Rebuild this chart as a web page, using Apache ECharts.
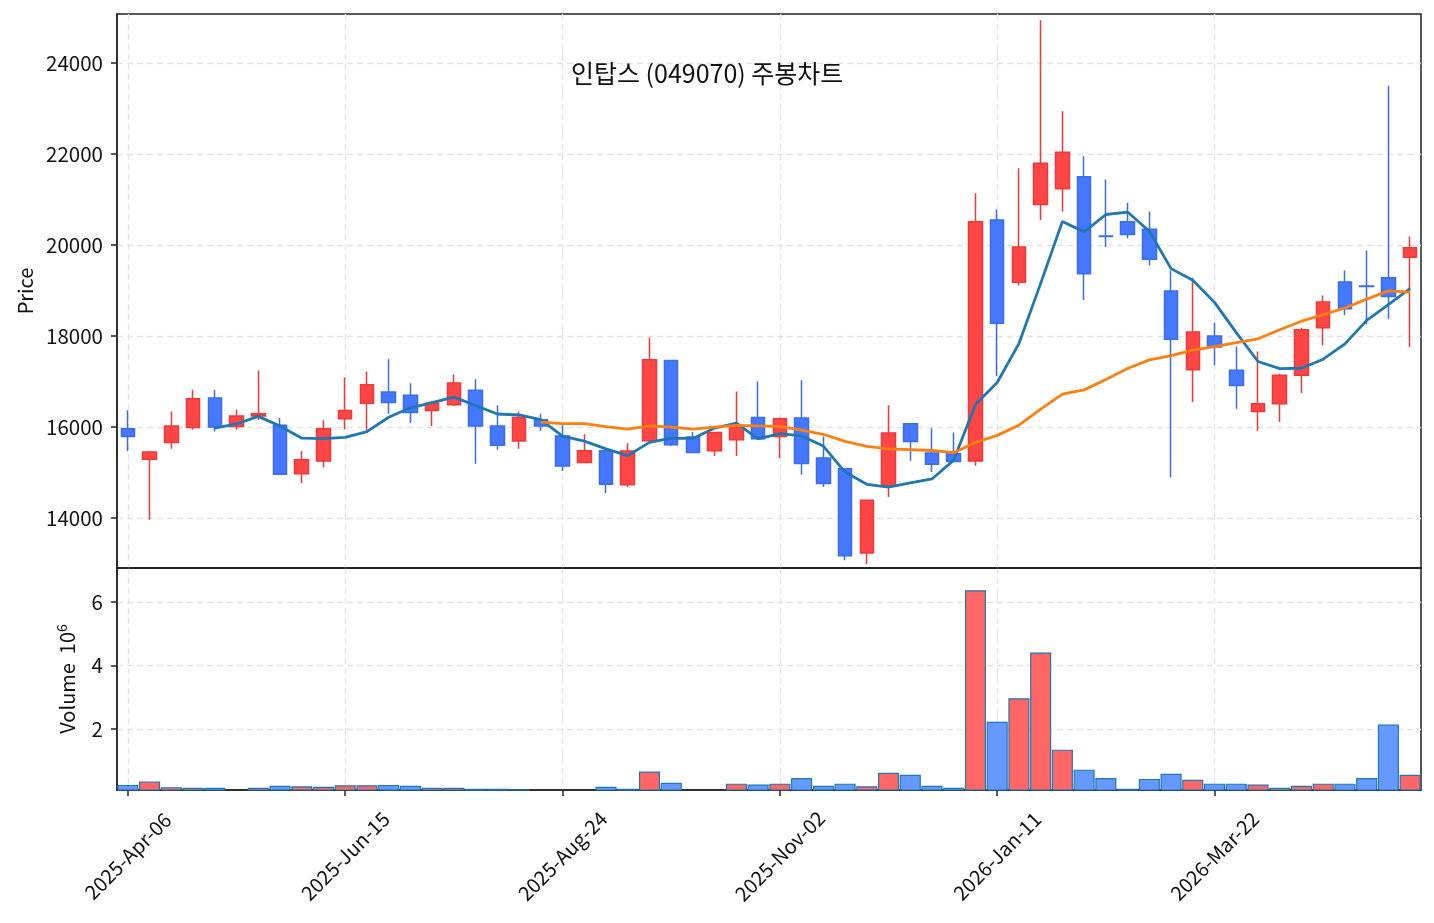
<!DOCTYPE html>
<html><head><meta charset="utf-8">
<script src="https://cdn.jsdelivr.net/npm/echarts@6/dist/echarts.min.js"></script>
<style>html,body{margin:0;padding:0;background:#fff}#c{width:1434px;height:923px}</style>
</head><body><div id="c"></div>
<script>
const dates = ["2025-04-06","2025-04-13","2025-04-20","2025-04-27","2025-05-04","2025-05-11","2025-05-18","2025-05-25","2025-06-01","2025-06-08",
"2025-06-15","2025-06-22","2025-06-29","2025-07-06","2025-07-13","2025-07-20","2025-07-27","2025-08-03","2025-08-10","2025-08-17",
"2025-08-24","2025-08-31","2025-09-07","2025-09-14","2025-09-21","2025-09-28","2025-10-05","2025-10-12","2025-10-19","2025-10-26",
"2025-11-02","2025-11-09","2025-11-16","2025-11-23","2025-11-30","2025-12-07","2025-12-14","2025-12-21","2025-12-28","2026-01-04",
"2026-01-11","2026-01-18","2026-01-25","2026-02-01","2026-02-08","2026-02-15","2026-02-22","2026-03-01","2026-03-08","2026-03-15",
"2026-03-22","2026-03-29","2026-04-05","2026-04-12","2026-04-19","2026-04-26","2026-05-03","2026-05-10","2026-05-17","2026-05-24"];
const opens  = [15960,15290,15660,15990,16640,16010,16240,16040,14970,15250,16180,16520,16770,16700,16360,16490,16810,16020,15690,16160,
15800,15220,15480,14730,15700,17460,15780,15480,15720,16210,15790,16200,15320,15080,13230,14710,16070,15430,15410,15250,
20550,19180,20890,21240,21500,20200,20510,20350,18990,17260,18000,17250,16340,16510,17140,18180,19190,19100,19280,19730];
const highs  = [16370,15470,16340,16820,16820,16380,17240,16200,15470,16150,17090,17220,17490,16960,16570,17160,17050,16480,16340,16290,
16040,15840,15480,15640,17970,17460,15890,15880,16780,17000,16210,17030,15790,15080,14390,16480,16070,15970,15880,21140,
20780,21690,24940,22940,21950,21440,20930,20740,19440,19280,18300,17770,17660,17170,18180,18890,19440,19880,23500,20190];
const lows   = [15470,13960,15520,15940,15900,15940,16150,14960,14770,15110,15950,15930,16290,16090,16020,16460,15190,15500,15520,15920,
15030,15220,14550,14680,15700,15580,15440,15360,15360,15740,15320,14950,14680,13070,12990,14460,15260,15010,15240,15150,
17120,19110,20550,20740,18790,19960,20150,19550,14890,16550,17360,16400,15910,16110,16750,17800,18460,18260,18370,17760];
const closes = [15790,15450,16020,16620,16000,16240,16290,14960,15280,15960,16360,16930,16540,16320,16520,16970,16020,15600,16210,16020,
15140,15480,14740,15470,17480,15610,15440,15880,16020,15740,16180,15200,14760,13170,14390,15870,15680,15180,15240,20510,
18280,19960,21800,22040,19370,20190,20230,19690,17930,18090,17760,16910,16510,17140,18140,18750,18600,19090,18870,19940];
// volume in units of 10^6 shares
const volumes = [0.24,0.35,0.17,0.15,0.15,0.08,0.15,0.21,0.20,0.18,0.23,0.23,0.24,0.21,0.15,0.15,0.12,0.12,0.10,0.08,
0.09,0.09,0.18,0.12,0.66,0.31,0.09,0.07,0.28,0.25,0.28,0.46,0.21,0.28,0.20,0.62,0.56,0.21,0.15,6.37,
2.23,2.97,4.41,1.35,0.72,0.46,0.12,0.43,0.59,0.40,0.28,0.28,0.25,0.15,0.21,0.28,0.28,0.46,2.14,0.56];
const titleText = "인탑스 (049070) 주봉차트";
const MON = ["Jan","Feb","Mar","Apr","May","Jun","Jul","Aug","Sep","Oct","Nov","Dec"];

function fmtDate(s){ const p = s.split("-"); return p[0]+"-"+MON[+p[1]-1]+"-"+p[2]; }
function movingAvg(n){
  return closes.map((c,i)=>{
    if(i<n-1) return '-';
    let s=0; for(let k=i-n+1;k<=i;k++) s+=closes[k];
    return +(s/n).toFixed(2);
  });
}
const FONT = "Noto Sans CJK KR";
const UP = '#ff4646', DOWN = '#4677ff';
const candleData = dates.map((d,i)=>[opens[i],closes[i],lows[i],highs[i]]);
const volData = volumes.map((v,i)=>({value:v,itemStyle:{color: closes[i]>opens[i] ? '#ff6666' : '#6699ff'}}));
const GC = '#e3e3e3', TR = 'rgba(0,0,0,0)';
// split lines at the axis extents are hidden (the frame is drawn there), inner ones shown
const gridLineX = {show:true,lineStyle:{color:[TR,GC,GC,GC,GC,GC,GC,TR],type:[6,4],width:1.3}};
const gridLineP = {show:true,lineStyle:{color:[TR,GC,GC,GC,GC,GC,GC,TR],type:[6,4],width:1.3}};
const gridLineV = {show:true,lineStyle:{color:[TR,GC,GC,GC,TR],type:[6,4],width:1.3}};
const axisLineStyle = {show:true,onZero:false,lineStyle:{color:'#222',width:1.5}};
const L = 117, W = 1304;

const chart = echarts.init(document.getElementById('c'), null, {renderer:'canvas'});
chart.setOption({
  animation:false,
  backgroundColor:'#fff',
  textStyle:{fontFamily:FONT},
  title:{text:titleText,left:566,top:56,textStyle:{fontFamily:FONT,fontSize:25,fontWeight:'normal',color:'#111'}},
  grid:[
    {left:L,width:W,top:14,height:554,show:true,borderColor:'#222',borderWidth:1.5,backgroundColor:'transparent'},
    {left:L,width:W,top:568,height:222,show:true,borderColor:'#222',borderWidth:1.5,backgroundColor:'transparent'}
  ],
  xAxis:[
    {type:'category',gridIndex:0,data:dates,boundaryGap:true,axisLine:axisLineStyle,axisTick:{show:false},axisLabel:{show:false},splitLine:{show:false}},
    {type:'category',gridIndex:1,data:dates,boundaryGap:true,axisLine:axisLineStyle,
      axisTick:{show:true,alignWithLabel:true,interval:9,length:6,lineStyle:{color:'#222',width:1.5}},
      axisLabel:{show:true,interval:9,rotate:45,align:'center',verticalAlign:'middle',margin:66,fontSize:20,color:'#111',fontFamily:FONT,formatter:fmtDate},
      splitLine:{show:false}},
    {type:'value',gridIndex:0,min:-0.5,max:59.5,splitNumber:6,axisLine:{show:false},axisTick:{show:false},axisLabel:{show:false},splitLine:gridLineX},
    {type:'value',gridIndex:1,min:-0.5,max:59.5,splitNumber:6,axisLine:{show:false},axisTick:{show:false},axisLabel:{show:false},splitLine:gridLineX}
  ],
  yAxis:[
    {type:'value',gridIndex:0,min:12900,max:25080,splitNumber:6,
      name:'Price',nameLocation:'middle',nameGap:82,nameRotate:90,nameTextStyle:{fontFamily:FONT,fontSize:20,color:'#111'},
      axisLine:axisLineStyle,axisTick:{show:true,length:6,lineStyle:{color:'#222',width:1.5}},
      axisLabel:{fontSize:20.5,color:'#111',margin:14,fontFamily:FONT,showMinLabel:false,showMaxLabel:false,formatter:v=>String(v)},
      splitLine:gridLineP},
    {type:'value',gridIndex:1,min:0.08,max:7.07,splitNumber:3,
      name:'{a|Volume  10}{b|6}',nameLocation:'middle',nameGap:38,nameRotate:90,
      nameTextStyle:{fontFamily:FONT,fontSize:20,color:'#111',rich:{a:{fontFamily:FONT,fontSize:20,color:'#111'},b:{fontFamily:FONT,fontSize:14,color:'#111',padding:[0,0,10,0]}}},
      axisLine:axisLineStyle,axisTick:{show:true,length:6,lineStyle:{color:'#222',width:1.5}},
      axisLabel:{fontSize:20.5,color:'#111',margin:14,fontFamily:FONT,showMinLabel:false,showMaxLabel:false,formatter:v=>String(v)},
      splitLine:gridLineV}
  ],
  series:[
    {type:'candlestick',xAxisIndex:0,yAxisIndex:0,data:candleData,barWidth:14,z:3,
      itemStyle:{color:UP,color0:DOWN,borderColor:'#f03838',borderColor0:'#3a6cf0',borderWidth:1.5}},
    {type:'line',xAxisIndex:0,yAxisIndex:0,data:movingAvg(5),symbol:'none',z:4,lineStyle:{color:'#1f77b4',width:2.8}},
    {type:'line',xAxisIndex:0,yAxisIndex:0,data:movingAvg(20),symbol:'none',z:4,lineStyle:{color:'#ff7f0e',width:2.8}},
    {type:'bar',xAxisIndex:1,yAxisIndex:1,data:volData,barWidth:'97%',z:3,
      itemStyle:{borderColor:'#1f77b4',borderWidth:1.2}}
  ]
});
</script></body></html>
